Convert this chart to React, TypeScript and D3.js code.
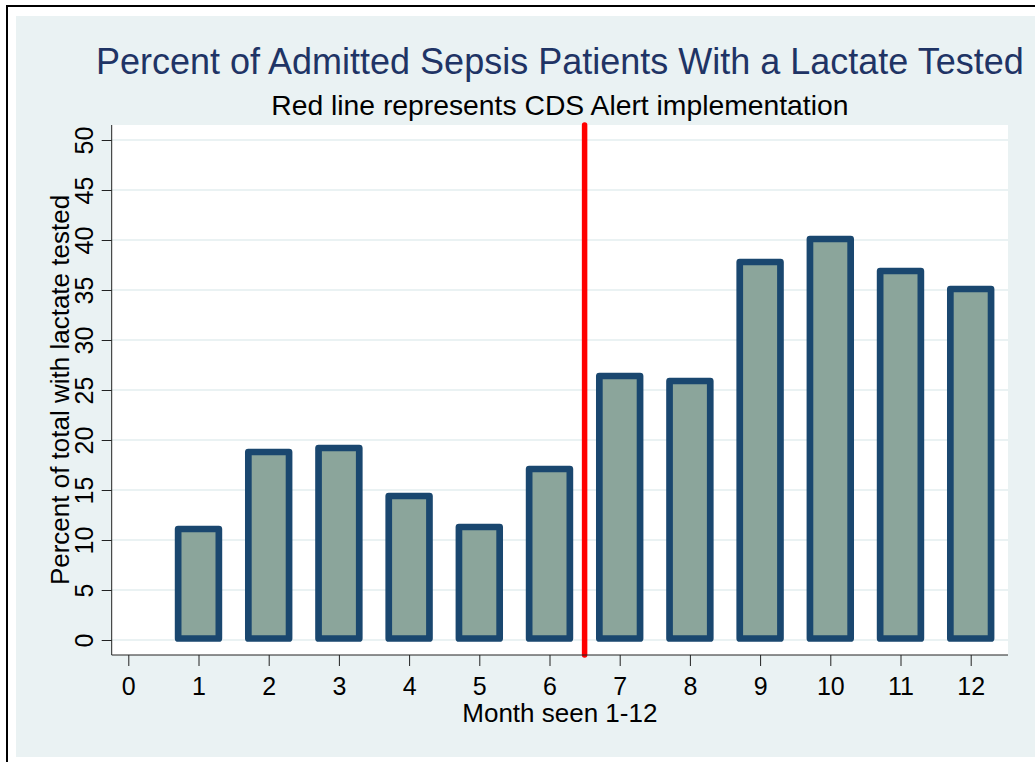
import React, { useRef, useEffect } from 'react';
import * as d3 from 'd3';

// months 1-12 and the percent with lactate tested
const months = [1, 2, 3, 4, 5, 6, 7, 8, 9, 10, 11, 12];
const percentTested = [11.1, 18.8, 19.2, 14.4, 11.3, 17.1, 26.4, 25.9, 37.8, 40.1, 36.9, 35.1];
const xTicks = [0, 1, 2, 3, 4, 5, 6, 7, 8, 9, 10, 11, 12];
const yTicks = [0, 5, 10, 15, 20, 25, 30, 35, 40, 45, 50];
const alertMonth = 6.5;

const title = 'Percent of Admitted Sepsis Patients With a Lactate Tested';
const subtitle = 'Red line represents CDS Alert implementation';
const xTitle = 'Month seen 1-12';
const yTitle = 'Percent of total with lactate tested';

const App: React.FC = () => {
  const svgRef = useRef<SVGSVGElement | null>(null);

  useEffect(() => {
    if (!svgRef.current) return;
    const width = 1035;
    const height = 762;
    const font = "'Liberation Sans', Arial, sans-serif";
    const bg = '#eaf2f3';

    // plot region
    const left = 111.7;
    const right = 1008;
    const top = 125;
    const bottom = 655;

    const svg = d3.select(svgRef.current).attr('width', width).attr('height', height);
    svg.selectAll('*').remove();

    // outer frame + graph region
    svg.append('rect').attr('x', 7).attr('y', 6).attr('width', 1060).attr('height', 800)
      .attr('fill', 'white').attr('stroke', 'black').attr('stroke-width', 2);
    svg.append('rect').attr('x', 16).attr('y', 16).attr('width', 1040).attr('height', 741)
      .attr('fill', bg);
    svg.append('rect').attr('x', left).attr('y', top).attr('width', right - left)
      .attr('height', bottom - top).attr('fill', 'white');

    const x = d3.scaleLinear().domain([0, 12]).range([128.3, 970.7]);
    const y = d3.scaleLinear().domain([0, 50]).range([640, 140]);

    // gridlines
    svg.append('g')
      .selectAll('line')
      .data(yTicks)
      .enter()
      .append('line')
      .attr('x1', left).attr('x2', right)
      .attr('y1', d => y(d)).attr('y2', d => y(d))
      .attr('stroke', bg).attr('stroke-width', 2);

    // bars
    const barW = (x(1) - x(0)) * 0.58;
    svg.append('g')
      .selectAll('rect')
      .data(months)
      .enter()
      .append('rect')
      .attr('x', d => x(d) - barW / 2)
      .attr('width', barW)
      .attr('y', (d, i) => y(percentTested[i]))
      .attr('height', (d, i) => y(0) - 1.5 - y(percentTested[i]))
      .attr('fill', '#8ba59b')
      .attr('stroke', '#1a476f')
      .attr('stroke-width', 6.7)
      .attr('stroke-linejoin', 'round');

    // alert line
    svg.append('line')
      .attr('x1', x(alertMonth)).attr('x2', x(alertMonth))
      .attr('y1', top).attr('y2', bottom)
      .attr('stroke', '#ff0000').attr('stroke-width', 5.5)
      .attr('stroke-linecap', 'round');

    // y axis
    const yAxis = svg.append('g')
      .attr('transform', `translate(${left},0)`)
      .call(d3.axisLeft(y).tickValues(yTicks).tickSize(10).tickPadding(8).tickSizeOuter(0));
    yAxis.select('.domain').attr('d', `M0,${top}V${bottom}`).attr('stroke', '#222');
    yAxis.selectAll('.tick line').attr('stroke', '#222');
    yAxis.selectAll('.tick text')
      .attr('x', null).attr('dy', null)
      .attr('transform', 'translate(-19,0) rotate(-90)')
      .attr('text-anchor', 'middle')
      .attr('fill', 'black')
      .style('font-family', font)
      .style('font-size', '25px');

    // x axis
    const xAxis = svg.append('g')
      .attr('transform', `translate(0,${bottom})`)
      .call(d3.axisBottom(x).tickValues(xTicks).tickFormat(d3.format('d')).tickSize(11).tickSizeOuter(0));
    xAxis.select('.domain').attr('d', `M${left},0H${right}`).attr('stroke', '#222');
    xAxis.selectAll('.tick line').attr('stroke', '#222');
    xAxis.selectAll('.tick text')
      .attr('y', 40).attr('dy', null)
      .attr('fill', 'black')
      .style('font-family', font)
      .style('font-size', '25px');

    const cx = (left + right) / 2;

    // titles
    svg.append('text').text(title)
      .attr('x', cx).attr('y', 74)
      .attr('text-anchor', 'middle')
      .attr('fill', '#1f3465')
      .style('font-family', font).style('font-size', '36px');
    svg.append('text').text(subtitle)
      .attr('x', cx).attr('y', 115)
      .attr('text-anchor', 'middle')
      .attr('fill', 'black')
      .style('font-family', font).style('font-size', '28.3px');
    svg.append('text').text(xTitle)
      .attr('x', cx).attr('y', 722)
      .attr('text-anchor', 'middle')
      .attr('fill', 'black')
      .style('font-family', font).style('font-size', '26px');
    svg.append('text').text(yTitle)
      .attr('transform', `translate(69,${(top + bottom) / 2}) rotate(-90)`)
      .attr('text-anchor', 'middle')
      .attr('fill', 'black')
      .style('font-family', font).style('font-size', '26px');
  }, []);

  return <svg ref={svgRef} style={{ position: 'absolute', left: 0, top: 0 }}></svg>;
};

export default App;
